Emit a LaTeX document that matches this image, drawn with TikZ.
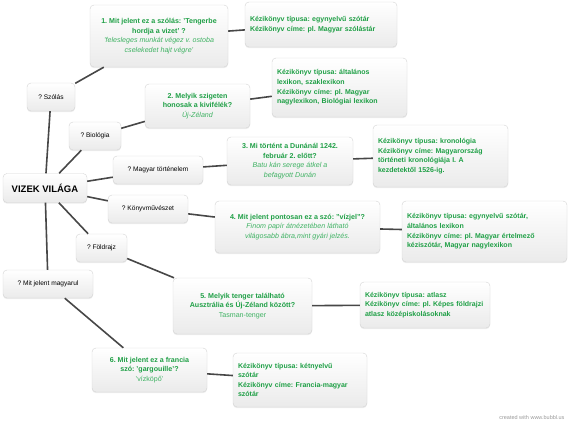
\documentclass[tikz,border=0pt]{standalone}
\usepackage{fontspec}
\setmainfont{Liberation Sans}
\usetikzlibrary{shadows}
\definecolor{qgreen}{HTML}{1E9F45}
\definecolor{agreen}{HTML}{3FB263}
\definecolor{linkgray}{HTML}{474747}
\definecolor{boxline}{HTML}{D4D4D4}
\tikzset{
  bub/.style={draw=boxline, rounded corners=4pt, top color=white, bottom color=black!8,
              drop shadow={opacity=0.15, shadow xshift=0pt, shadow yshift=-1.2pt},
              inner sep=3pt},
  rootbox/.style={bub, font=\fontsize{9.5}{11}\selectfont\bfseries,
                  minimum width=84pt, minimum height=29pt},
  topic/.style={bub, font=\fontsize{6.6}{9}\selectfont, minimum height=28pt},
  quest/.style={bub, align=center, font=\fontsize{7.1}{9.6}\selectfont, text=qgreen},
  info/.style={bub, align=left, inner xsep=5pt,
               font=\fontsize{7}{9.6}\selectfont\bfseries, text=qgreen},
  link/.style={draw=linkgray, line width=1.6pt},
}
\newcommand{\qt}[1]{\textbf{#1}}
\newcommand{\an}[1]{{\color{agreen}\itshape #1}}
\newcommand{\au}[1]{{\color{agreen}#1}}
\frenchspacing
\hyphenpenalty=10000

\begin{document}
\begin{tikzpicture}[x=1pt, y=-1pt]
  \useasboundingbox (0,0) rectangle (573,427);
  \node[rootbox] (root) at (45,188) {VIZEK VILÁGA};
  \foreach \n/\x/\y/\w/\t in {szolas/51/97/48/{? Szólás},
      bio/95/136/52/{? Biológia}, tort/158/170/90/{? Magyar történelem},
      konyv/148/209/80/{? Könyvművészet}, fold/101.5/248/51/{? Földrajz},
      magy/48/284/90/{? Mit jelent magyarul}}{
    \node[topic, minimum width=\w pt] (\n) at (\x,\y) {\t};
  }
  \node[quest, minimum width=138pt, minimum height=62pt] (q1) at (159,36)
    {\qt{1. Mit jelent ez a szólás: 'Tengerbe}\\\qt{hordja a vizet' ?}\\
     \an{'felesleges munkát végez v. ostoba}\\\an{cselekedet hajt végre'}};
  \node[quest, minimum width=105pt, minimum height=44pt] (q2) at (197.5,106)
    {\qt{2. Melyik szigeten}\\\qt{honosak a kivifélék?}\\\an{Új-Zéland}};
  \node[quest, minimum width=126pt, minimum height=48pt] (q3) at (290,161)
    {\qt{3. Mi történt a Dunánál 1242.}\\\qt{február 2. előtt?}\\
     \an{Batu kán serege átkel a}\\\an{befagyott Dunán}};
  \node[quest, minimum width=165pt, minimum height=52pt] (q4) at (297.5,227)
    {\qt{4. Mit jelent pontosan ez a szó: "vízjel"?}\\
     \an{Finom papír átnézetében látható}\\\an{világosabb ábra,mint gyári jelzés.}};
  \node[quest, minimum width=139pt, minimum height=56pt] (q5) at (242.5,306)
    {\qt{5. Melyik tenger található}\\\qt{Ausztrália és Új-Zéland között?}\\
     \au{Tasman-tenger}};
  \node[quest, minimum width=115pt, minimum height=44pt] (q6) at (149.5,370)
    {\qt{6. Mit jelent ez a francia}\\\qt{szó: 'gargouille'?}\\\au{'vízköpő'}};
  % kezikonyvek
  \node[info, text width=142pt, minimum height=45pt] (i1) at (321,24.5)
    {Kézikönyv típusa: egynyelvű szótár\\Kézikönyv címe: pl. Magyar szólástár};
  \node[info, text width=125pt, minimum height=59pt] (i2) at (339.5,87.5)
    {Kézikönyv típusa: általános\\lexikon, szaklexikon\\
     Kézikönyv címe: pl. Magyar\\nagylexikon, Biológiai lexikon};
  \node[info, text width=125pt, minimum height=62pt] (i3) at (440.5,156)
    {Kézikönyv típusa: kronológia\\Kézikönyv címe: Magyarország\\
     történeti kronológiája I. A\\kezdetektől 1526-ig.};
  \node[info, text width=155pt, minimum height=61pt] (i4) at (484.5,231.5)
    {Kézikönyv típusa: egynyelvű szótár,\\általános lexikon\\
     Kézikönyv címe: pl. Magyar értelmező\\kéziszótár, Magyar nagylexikon};
  \node[info, text width=120pt, minimum height=46pt] (i5) at (425,305)
    {Kézikönyv típusa: atlasz\\Kézikönyv címe: pl. Képes földrajzi\\
     atlasz középiskolásoknak};
  \node[info, text width=124pt, minimum height=54pt] (i6) at (300,380)
    {Kézikönyv típusa: kétnyelvű\\szótár\\Kézikönyv címe: Francia-magyar\\szótár};
  \foreach \a/\b in {root/szolas, root/bio, root/tort, root/konyv, root/fold,
      root/magy, szolas/q1, bio/q2, tort/q3, konyv/q4, fold/q5, magy/q6,
      q1/i1, q2/i2, q3/i3, q4/i4, q5/i5, q6/i6}
    \draw[link] (\a) -- (\b);
  \node[text=black!40, font=\fontsize{5.5}{6}\selectfont, anchor=east] (credit)
    at (568,418) {created with www.bubbl.us};
\end{tikzpicture}
\end{document}
